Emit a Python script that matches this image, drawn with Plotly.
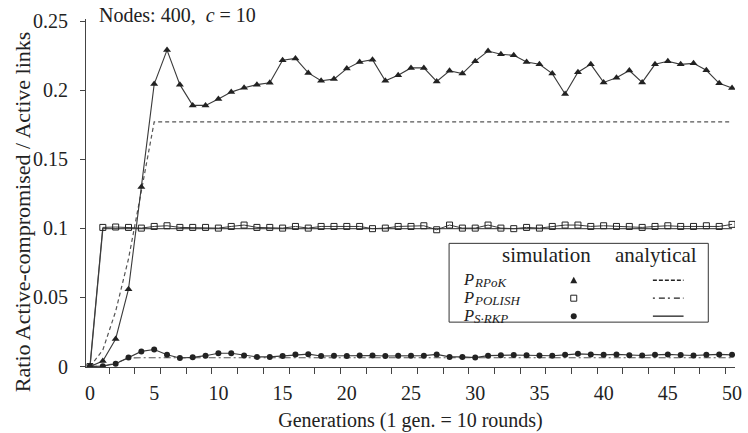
import plotly.graph_objects as go

# ---------------- data ----------------
generations = list(range(51))

rpok_sim = [0, 0.004, 0.020, 0.056, 0.130, 0.2044, 0.229, 0.204, 0.189, 0.189,
            0.1936, 0.1986, 0.2017, 0.204, 0.2054, 0.2216, 0.223, 0.2125, 0.2068, 0.208,
            0.2156, 0.2204, 0.2221, 0.2068, 0.2108, 0.2161, 0.2161, 0.2063, 0.214, 0.212,
            0.221, 0.2283, 0.226, 0.2252, 0.2204, 0.2187, 0.212, 0.1972, 0.213, 0.2187,
            0.2056, 0.209, 0.2142, 0.2056, 0.2187, 0.2209, 0.2187, 0.2194, 0.2144, 0.205,
            0.2015]

polish_sim = [0, 0.1007, 0.1010, 0.1007, 0.1002, 0.1014, 0.1019, 0.1007, 0.1007, 0.1007,
              0.1002, 0.1014, 0.1024, 0.1007, 0.1007, 0.1002, 0.1014, 0.1002, 0.1014, 0.1014,
              0.1014, 0.1014, 0.0998, 0.1002, 0.1014, 0.1014, 0.1019, 0.0990, 0.1024, 0.1002,
              0.1002, 0.1024, 0.1002, 0.0998, 0.1007, 0.1002, 0.1014, 0.1024, 0.1024, 0.1014,
              0.1019, 0.1014, 0.1014, 0.1007, 0.1014, 0.1019, 0.1014, 0.1014, 0.1019, 0.1014,
              0.1029]

srkp_sim = [0, 0.0003, 0.0020, 0.0065, 0.0110, 0.0124, 0.0086, 0.0062, 0.0067, 0.0079,
            0.0096, 0.0096, 0.0081, 0.0070, 0.0070, 0.0077, 0.0088, 0.0090, 0.0077, 0.0079,
            0.0077, 0.0080, 0.0080, 0.0077, 0.0079, 0.0079, 0.0079, 0.0088, 0.0070, 0.0070,
            0.0065, 0.0079, 0.0082, 0.0084, 0.0082, 0.0080, 0.0078, 0.0085, 0.0092, 0.0088,
            0.0085, 0.0088, 0.0082, 0.0080, 0.0085, 0.0088, 0.0084, 0.0080, 0.0085, 0.0088,
            0.0085]

# analytical curves (breakpoints)
dashed_gen = [0, 1, 2, 3, 4, 5, 50]
dashed_val = [0, 0.012, 0.040, 0.078, 0.127, 0.177, 0.177]

solid_gen = [0, 1, 50]
solid_val = [0, 0.0998, 0.0998]

dashdot_gen = [0, 1, 2, 3, 4, 50]
dashdot_val = [0, 0.0005, 0.0025, 0.0062, 0.0064, 0.0064]

x_tick_vals = [0, 5, 10, 15, 20, 25, 30, 35, 40, 45, 50]
y_tick_vals = [0, 0.05, 0.1, 0.15, 0.2, 0.25]
y_tick_text = ["0", "0.05", "0.1", "0.15", "0.2", "0.25"]

legend_names = ["RPoK", "POLISH", "S·RKP"]

# ---------------- figure ----------------
W, H = 748, 433
ML, MR, MT, MB = 86, 6, 19, 65
PW, PH = W - ML - MR, H - MT - MB

SERIF = "Liberation Serif"
INK = "#222222"
LINE = "#3a3a3a"

fig = go.Figure()

fig.add_trace(go.Scatter(x=dashed_gen, y=dashed_val, mode="lines",
                         line=dict(color="#555555", width=1.2, dash="4px,3px"),
                         name="RPoK analytical", showlegend=False))
fig.add_trace(go.Scatter(x=solid_gen, y=solid_val, mode="lines",
                         line=dict(color="#555555", width=1.3),
                         name="solid analytical", showlegend=False))
fig.add_trace(go.Scatter(x=dashdot_gen, y=dashdot_val, mode="lines",
                         line=dict(color="#555555", width=1.1, dash="7px,3px,2px,3px"),
                         name="dash-dot analytical", showlegend=False))

fig.add_trace(go.Scatter(x=generations, y=polish_sim, mode="lines+markers",
                         line=dict(color=LINE, width=1),
                         marker=dict(symbol="square-open", size=6, color=INK,
                                     line=dict(width=1, color=INK)),
                         name="P_POLISH simulation", showlegend=False))
fig.add_trace(go.Scatter(x=generations, y=srkp_sim, mode="lines+markers",
                         line=dict(color=LINE, width=1.1),
                         marker=dict(symbol="circle", size=6, color=INK),
                         name="P_S-RKP simulation", showlegend=False))
fig.add_trace(go.Scatter(x=generations, y=rpok_sim, mode="lines+markers",
                         line=dict(color=LINE, width=1.1),
                         marker=dict(symbol="triangle-up", size=7, color=INK),
                         name="P_RPoK simulation", showlegend=False))

# helpers for pixel -> paper coordinates (legend box placement)
def px(xpix):
    return (xpix - ML) / PW

def py(ypix):
    return (H - MB - ypix) / PH

shapes = []
annotations = []

def note(xpix, ypix, text, size, xanchor="left", yanchor="middle", angle=0):
    annotations.append(dict(xref="paper", yref="paper", x=px(xpix), y=py(ypix),
                            xanchor=xanchor, yanchor=yanchor, text=text,
                            showarrow=False, textangle=angle,
                            font=dict(family=SERIF, size=size, color=INK)))

# legend box
shapes.append(dict(type="rect", xref="paper", yref="paper",
                   x0=px(453), x1=px(715), y0=py(323), y1=py(244),
                   line=dict(color="#333333", width=1), fillcolor="white", layer="above"))

note(551, 256, "simulation", 21, xanchor="center")
note(662, 256, "analytical", 21, xanchor="center")

row_ys = [281, 299, 317]
for name, ry in zip(legend_names, row_ys):
    note(465, ry - 1, "<i>P</i>", 16.5)
    note(476, ry + 2, "<i>" + name + "</i>", 13)

# legend marker samples
mx = px(579)
shapes.append(dict(type="path", xref="paper", yref="paper", xsizemode="pixel",
                   ysizemode="pixel", xanchor=mx, yanchor=py(row_ys[0]),
                   path="M -3.5 -3 L 3.5 -3 L 0 3.5 Z",
                   fillcolor=INK, line=dict(width=0), layer="above"))
shapes.append(dict(type="rect", xref="paper", yref="paper", xsizemode="pixel",
                   ysizemode="pixel", xanchor=mx, yanchor=py(row_ys[1]),
                   x0=-3, x1=3, y0=-3, y1=3,
                   line=dict(color=INK, width=1), fillcolor="white", layer="above"))
shapes.append(dict(type="circle", xref="paper", yref="paper", xsizemode="pixel",
                   ysizemode="pixel", xanchor=mx, yanchor=py(row_ys[2]),
                   x0=-3, x1=3, y0=-3, y1=3,
                   line=dict(color=INK, width=0), fillcolor=INK, layer="above"))

# legend line samples
dash_styles = ["4px,2px", "2px,4px,6px,3px", "solid"]
for ry, ds in zip(row_ys, dash_styles):
    shapes.append(dict(type="line", xref="paper", yref="paper",
                       x0=px(659), x1=px(690), y0=py(ry), y1=py(ry),
                       line=dict(color=INK, width=1.3, dash=ds), layer="above"))

# top-left note
note(97, 15, "Nodes: 400,  <i>c</i> = 10", 20)

# y-axis title (placed as annotation to match the original's vertical offset)
note(22, 212, "Ratio Active-compromised / Active links", 22,
     xanchor="center", angle=-90)

fig.update_layout(
    width=W, height=H,
    margin=dict(l=ML, r=MR, t=MT, b=MB, pad=0),
    paper_bgcolor="white", plot_bgcolor="white",
    showlegend=False,
    shapes=shapes, annotations=annotations,
    font=dict(family=SERIF, color=INK),
    xaxis=dict(range=[-0.31, 50.23], tickvals=x_tick_vals, ticks="",
               ticklabelstandoff=8, ticklabeloverflow="allow",
               showgrid=False, zeroline=False, showline=True,
               linecolor="#444444", linewidth=1,
               tickfont=dict(family=SERIF, size=20, color=INK),
               minor=dict(ticks="outside", tick0=1.5, dtick=2, ticklen=6,
                          tickcolor="#444444", tickwidth=1, showgrid=False),
               title=dict(text="Generations (1 gen. = 10 rounds)",
                          font=dict(family=SERIF, size=20, color=INK), standoff=9)),
    yaxis=dict(range=[-0.0003, 0.2515], tickvals=y_tick_vals, ticktext=y_tick_text,
               ticks="outside", ticklen=5, tickcolor="#444444",
               ticklabelstandoff=8,
               showgrid=False, zeroline=False, showline=True,
               linecolor="#444444", linewidth=1,
               tickfont=dict(family=SERIF, size=20, color=INK)),
)

fig.write_html("out.html", config={"displayModeBar": False},
               post_script="document.body.style.margin='0';")
